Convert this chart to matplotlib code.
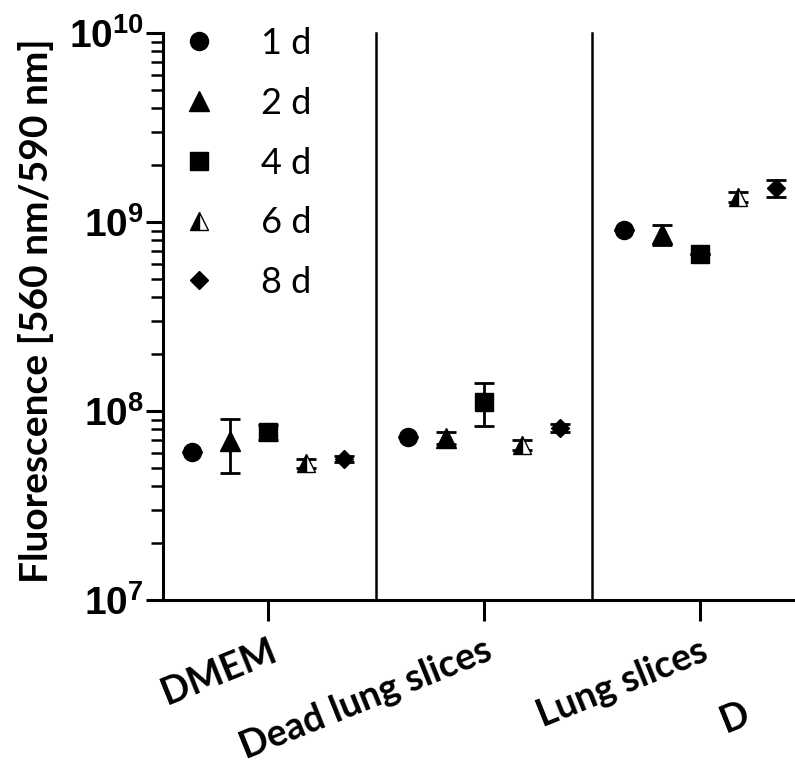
import numpy as np
import matplotlib
matplotlib.use("Agg")
import matplotlib.pyplot as plt

# ---- data: mean fluorescence and SD per medium and incubation time ----
groups = ["DMEM", "Dead lung slices", "Lung slices"]
days = ["1 d", "2 d", "4 d", "6 d", "8 d"]

mean_1d = [6.1e7, 7.3e7, 9.1e8]
sd_1d = [0.0, 0.0, 0.0]
mean_2d = [6.9e7, 7.2e7, 8.6e8]
sd_2d = [2.2e7, 0.5e7, 1.0e8]
mean_4d = [7.7e7, 1.12e8, 6.8e8]
sd_4d = [0.7e7, 0.29e8, 0.0]
mean_6d = [5.3e7, 6.6e7, 1.36e9]
sd_6d = [0.3e7, 0.4e7, 0.8e8]
mean_8d = [5.6e7, 8.1e7, 1.51e9]
sd_8d = [0.2e7, 0.4e7, 1.5e8]

means = [mean_1d, mean_2d, mean_4d, mean_6d, mean_8d]
sds = [sd_1d, sd_2d, sd_4d, sd_6d, sd_8d]

########## marker styles for each time point ##########
styles = [
    dict(marker="o", markersize=13),
    dict(marker="^", markersize=14),
    dict(marker="s", markersize=12.5),
    dict(marker="^", markersize=13, fillstyle="left", markerfacecoloralt="white"),
    dict(marker="D", markersize=9.5),
]
offsets = [-0.35, -0.175, 0.0, 0.175, 0.35]

plt.rcParams["mathtext.fontset"] = "custom"
plt.rcParams["mathtext.rm"] = "Liberation Sans:bold"
plt.rcParams["mathtext.bf"] = "Liberation Sans:bold"
plt.rcParams["mathtext.it"] = "Liberation Sans:bold"

fig = plt.figure(figsize=(7.95, 7.68), dpi=100)
ax = fig.add_axes([163 / 795, 1 - 600 / 768, 1 - 163 / 795, (600 - 33) / 768])

x = np.arange(1, len(groups) + 1)
for i in range(len(days)):
    ax.errorbar(x + offsets[i], means[i], yerr=sds[i], fmt="none", ecolor="black",
                elinewidth=2, capsize=7, capthick=2, zorder=2)
    ax.plot(x + offsets[i], means[i], linestyle="none", color="black",
            markerfacecolor="black", markeredgecolor="black", markeredgewidth=1,
            label=days[i], zorder=3, **styles[i])

ax.set_yscale("log")
ax.set_ylim(1e7, 1e10)
ax.set_xlim(0.514, 3.44)

# group separators
for b in [1.5, 2.5]:
    ax.axvline(b, color="black", linewidth=1.8, clip_on=False)

for s in ["top", "right"]:
    ax.spines[s].set_visible(False)
for s in ["left", "bottom"]:
    ax.spines[s].set_linewidth(2.2)

ax.set_yticks([1e7, 1e8, 1e9, 1e10])
ax.set_yticklabels([r"$10^{7}$", r"$10^{8}$", r"$10^{9}$", r"$10^{10}$"], fontsize=28)
ax.tick_params(axis="y", which="major", length=12, width=2.2, pad=2)
ax.tick_params(axis="y", which="minor", length=9, width=1.8)

ax.set_xticks(x)
ax.set_xticklabels(groups, rotation=22, ha="right", rotation_mode="anchor",
                   family="Lato", fontweight="bold", fontsize=27)
ax.tick_params(axis="x", which="major", length=15, width=2.2, pad=9)
ax.tick_params(axis="x", which="minor", length=0)

fig.text(735 / 795, 1 - 717 / 768, "D", rotation=22, ha="center", va="center",
         family="Lato", fontweight="bold", fontsize=27)

ax.set_ylabel("Fluorescence [560 nm/590 nm]", family="Lato", fontweight="bold",
              fontsize=28)
ax.yaxis.set_label_coords(-0.172, 0.51)

ax.legend(loc="upper left", bbox_to_anchor=(-0.011, 1.055), frameon=False,
          prop={"family": "Lato", "size": 26}, handletextpad=1.2,
          labelspacing=0.74, borderaxespad=0.3, handlelength=1.0)

fig.savefig("out.png", dpi=100)
